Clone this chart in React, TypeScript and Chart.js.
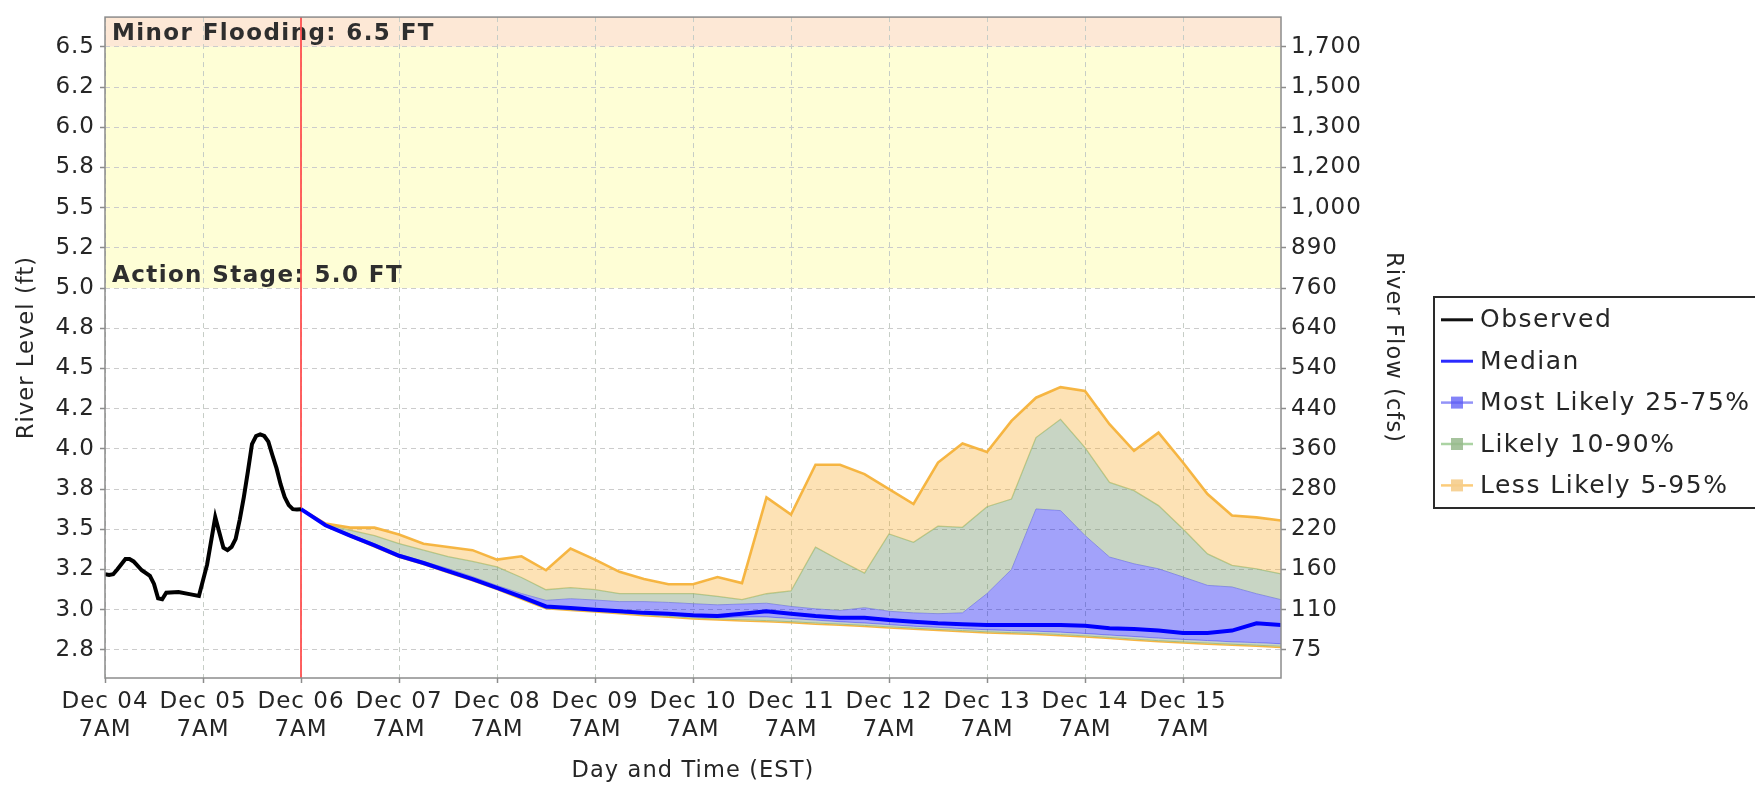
import React, { useEffect, useRef } from "react";
import { Chart, registerables } from "chart.js";

Chart.register(...registerables);

const CANVAS_W = 1755;
const CANVAS_H = 787;
const FONT = '"DejaVu Sans", "Noto Sans", sans-serif';
const TEXT_COLOR = "#262626";

// ---- Axis / category data (x = hours after Dec 04 7AM EST) ----
const dayLabels = ["Dec 04", "Dec 05", "Dec 06", "Dec 07", "Dec 08", "Dec 09", "Dec 10", "Dec 11", "Dec 12", "Dec 13", "Dec 14", "Dec 15"];
const dayTimeLabel = "7AM";
const xTickHours = [0, 24, 48, 72, 96, 120, 144, 168, 192, 216, 240, 264];
const xMinHour = 0;
const xMaxHour = 288;

const stageTicks = [2.75, 3.0, 3.25, 3.5, 3.75, 4.0, 4.25, 4.5, 4.75, 5.0, 5.25, 5.5, 5.75, 6.0, 6.25, 6.5];
const stageTickLabels = ["2.8", "3.0", "3.2", "3.5", "3.8", "4.0", "4.2", "4.5", "4.8", "5.0", "5.2", "5.5", "5.8", "6.0", "6.2", "6.5"];
const flowTickLabels = ["75", "110", "160", "220", "280", "360", "440", "540", "640", "760", "890", "1,000", "1,200", "1,300", "1,500", "1,700"];
const stageMin = 2.575;
const stageMax = 6.685;

const actionStage = 5.0;
const minorFloodStage = 6.5;
const forecastStartHour = 48;

const xTitle = "Day and Time (EST)";
const leftTitle = "River Level (ft)";
const rightTitle = "River Flow (cfs)";

// ---- Observed river level ----
const obsHours = [0, 1, 2, 3, 5, 6, 7, 9, 11, 12, 13, 14, 15, 18, 21, 23, 25, 27, 28, 29, 30, 31, 32, 33, 34, 35, 36, 37, 38, 39, 40, 41, 42, 43, 44, 45, 46, 47, 48];
const obsLevels = [3.22, 3.215, 3.22, 3.25, 3.315, 3.315, 3.3, 3.245, 3.21, 3.16, 3.07, 3.065, 3.105, 3.11, 3.095, 3.085, 3.28, 3.575, 3.48, 3.385, 3.37, 3.39, 3.44, 3.56, 3.7, 3.86, 4.03, 4.08, 4.09, 4.08, 4.045, 3.96, 3.88, 3.78, 3.7, 3.65, 3.625, 3.623, 3.625];

// ---- Ensemble forecast (6-hourly) ----
const fcHours = [48, 54, 60, 66, 72, 78, 84, 90, 96, 102, 108, 114, 120, 126, 132, 138, 144, 150, 156, 162, 168, 174, 180, 186, 192, 198, 204, 210, 216, 222, 228, 234, 240, 246, 252, 258, 264, 270, 276, 282, 288];
const fcMedian = [3.625, 3.525, 3.46, 3.4, 3.335, 3.29, 3.24, 3.19, 3.135, 3.08, 3.02, 3.01, 3.0, 2.99, 2.98, 2.975, 2.965, 2.96, 2.975, 2.99, 2.975, 2.96, 2.95, 2.95, 2.935, 2.925, 2.915, 2.91, 2.905, 2.905, 2.905, 2.905, 2.9, 2.885, 2.88, 2.87, 2.855, 2.855, 2.87, 2.915, 2.905];
const fcP95 = [3.625, 3.535, 3.51, 3.51, 3.467, 3.41, 3.39, 3.37, 3.311, 3.332, 3.245, 3.38, 3.311, 3.235, 3.19, 3.158, 3.158, 3.203, 3.165, 3.698, 3.591, 3.901, 3.901, 3.843, 3.75, 3.657, 3.915, 4.033, 3.98, 4.174, 4.318, 4.384, 4.36, 4.153, 3.988, 4.101, 3.915, 3.719, 3.585, 3.574, 3.554];
const fcP90 = [3.625, 3.53, 3.494, 3.46, 3.411, 3.37, 3.33, 3.3, 3.266, 3.2, 3.124, 3.137, 3.124, 3.1, 3.1, 3.1, 3.1, 3.083, 3.062, 3.099, 3.116, 3.389, 3.306, 3.227, 3.471, 3.419, 3.519, 3.512, 3.64, 3.688, 4.07, 4.184, 4.008, 3.791, 3.74, 3.647, 3.502, 3.347, 3.275, 3.254, 3.223];
const fcP75 = [3.625, 3.53, 3.47, 3.41, 3.345, 3.3, 3.255, 3.205, 3.15, 3.1, 3.058, 3.068, 3.06, 3.05, 3.05, 3.045, 3.037, 3.03, 3.035, 3.04, 3.02, 3.005, 2.995, 3.012, 2.99, 2.98, 2.975, 2.98, 3.1, 3.25, 3.626, 3.616, 3.461, 3.327, 3.285, 3.254, 3.203, 3.151, 3.141, 3.099, 3.062];
const fcP25 = [3.625, 3.523, 3.458, 3.396, 3.331, 3.286, 3.236, 3.186, 3.131, 3.073, 3.013, 3.003, 2.993, 2.984, 2.973, 2.965, 2.955, 2.95, 2.955, 2.955, 2.945, 2.935, 2.925, 2.917, 2.907, 2.897, 2.89, 2.882, 2.875, 2.87, 2.866, 2.86, 2.852, 2.842, 2.833, 2.823, 2.815, 2.808, 2.8, 2.795, 2.788];
const fcP10 = [3.625, 3.522, 3.457, 3.393, 3.328, 3.283, 3.233, 3.183, 3.128, 3.068, 3.008, 2.999, 2.99, 2.98, 2.968, 2.958, 2.948, 2.942, 2.937, 2.932, 2.925, 2.917, 2.91, 2.902, 2.893, 2.885, 2.877, 2.87, 2.862, 2.857, 2.852, 2.845, 2.837, 2.827, 2.817, 2.807, 2.799, 2.792, 2.785, 2.779, 2.772];
const fcP5 = [3.625, 3.52, 3.455, 3.39, 3.325, 3.28, 3.23, 3.18, 3.125, 3.065, 3.005, 2.995, 2.985, 2.975, 2.962, 2.952, 2.942, 2.935, 2.93, 2.925, 2.918, 2.91, 2.903, 2.895, 2.886, 2.878, 2.87, 2.863, 2.855, 2.85, 2.845, 2.838, 2.83, 2.82, 2.81, 2.8, 2.792, 2.785, 2.778, 2.772, 2.765];

// ---- Styles ----
const orangeFill = "rgba(250,175,50,0.36)";
const orangeLine = "rgba(246,178,58,0.95)";
const greenFill = "rgba(105,140,95,0.37)";
const greenLine = "rgba(150,190,130,0.75)";
const blueFill = "rgba(0,0,240,0.365)";
const blueLine = "rgba(120,120,250,0.75)";

const legendItems = [
  { label: "Observed", kind: "line", color: "#111111" },
  { label: "Median", kind: "line", color: "#2a2aff" },
  { label: "Most Likely 25-75%", kind: "band", color: "rgba(120,120,245,0.8)", box: "rgba(90,90,245,0.75)" },
  { label: "Likely 10-90%", kind: "band", color: "rgba(150,200,140,0.8)", box: "rgba(150,185,140,0.85)" },
  { label: "Less Likely 5-95%", kind: "band", color: "rgba(250,195,100,0.85)", box: "rgba(245,205,140,0.9)" },
];

const pts = (xs: number[], ys: number[]) => xs.map((x, i) => ({ x, y: ys[i] }));

const TICK_SPACING = "1px";

const decorPlugin = {
  id: "hefsDecor",
  beforeUpdate(chart: any) {
    chart.ctx.letterSpacing = TICK_SPACING;
  },
  beforeLayout(chart: any) {
    chart.ctx.letterSpacing = TICK_SPACING;
  },
  beforeDraw(chart: any) {
    const { ctx, chartArea: a, scales } = chart;
    ctx.letterSpacing = TICK_SPACING;
    const yMinor = scales.y.getPixelForValue(minorFloodStage);
    const yAction = scales.y.getPixelForValue(actionStage);
    ctx.save();
    ctx.fillStyle = "#fde8d6";
    ctx.fillRect(a.left, a.top, a.right - a.left, yMinor - a.top);
    ctx.fillStyle = "#fefed6";
    ctx.fillRect(a.left, yMinor, a.right - a.left, yAction - yMinor);
    ctx.restore();
  },
  beforeDatasetsDraw(chart: any) {
    const { ctx, chartArea: a, scales } = chart;
    const yAction = scales.y.getPixelForValue(actionStage);
    ctx.save();
    ctx.font = `bold 23px ${FONT}`;
    ctx.letterSpacing = "1.4px";
    ctx.fillStyle = "#2e2e2e";
    ctx.textAlign = "left";
    ctx.textBaseline = "alphabetic";
    ctx.fillText(`Minor Flooding: ${minorFloodStage.toFixed(1)} FT`, a.left + 7, a.top + 22.5);
    ctx.fillText(`Action Stage: ${actionStage.toFixed(1)} FT`, a.left + 7, yAction - 6);
    const xf = scales.x.getPixelForValue(forecastStartHour);
    ctx.strokeStyle = "rgba(255,80,80,0.9)";
    ctx.lineWidth = 2;
    ctx.beginPath();
    ctx.moveTo(xf, a.top);
    ctx.lineTo(xf, a.bottom);
    ctx.stroke();
    ctx.restore();
  },
  afterDatasetsDraw(chart: any) {
    const { ctx, chartArea: a } = chart;
    ctx.save();
    ctx.strokeStyle = "#8c8c8c";
    ctx.lineWidth = 1.5;
    ctx.strokeRect(a.left, a.top, a.right - a.left, a.bottom - a.top);
    ctx.restore();
  },
  afterDraw(chart: any) {
    const { ctx, chartArea: a } = chart;
    // axis titles
    ctx.save();
    ctx.fillStyle = TEXT_COLOR;
    ctx.font = `22.5px ${FONT}`;
    ctx.letterSpacing = "1.1px";
    ctx.textAlign = "center";
    ctx.textBaseline = "middle";
    const cy = (a.top + a.bottom) / 2;
    ctx.fillText(xTitle, (a.left + a.right) / 2, a.bottom + 93);
    ctx.save();
    ctx.translate(27, cy);
    ctx.rotate(-Math.PI / 2);
    ctx.fillText(leftTitle, 0, 0);
    ctx.restore();
    ctx.save();
    ctx.translate(a.right + 112, cy);
    ctx.rotate(Math.PI / 2);
    ctx.fillText(rightTitle, 0, 0);
    ctx.restore();
    ctx.restore();

    // legend
    const lx = a.right + 153;
    const ly = 297;
    ctx.save();
    ctx.fillStyle = "#ffffff";
    ctx.fillRect(lx, ly, 340, 211);
    ctx.strokeStyle = "#2a2a2a";
    ctx.lineWidth = 2;
    ctx.strokeRect(lx, ly, 340, 211);
    ctx.font = `25px ${FONT}`;
    ctx.letterSpacing = "1.5px";
    ctx.textAlign = "left";
    ctx.textBaseline = "middle";
    legendItems.forEach((it, i) => {
      const y = ly + 22.8 + i * 41.4;
      ctx.strokeStyle = it.color;
      ctx.lineWidth = it.kind === "line" ? 3 : 2.5;
      ctx.beginPath();
      ctx.moveTo(lx + 7, y);
      ctx.lineTo(lx + 39, y);
      ctx.stroke();
      if (it.kind === "band") {
        ctx.fillStyle = it.box as string;
        ctx.fillRect(lx + 17, y - 6, 12, 12);
      }
      ctx.fillStyle = TEXT_COLOR;
      ctx.fillText(it.label, lx + 46, y + 1);
    });
    ctx.restore();
  },
};

export default function App() {
  const ref = useRef<HTMLCanvasElement | null>(null);

  useEffect(() => {
    document.body.style.margin = "0";
    document.body.style.background = "#ffffff";
    const canvas = ref.current;
    if (!canvas) return;

    const tickFont = { family: FONT, size: 23, lineHeight: 1.05 };
    const lineDefaults = { pointRadius: 0, pointHoverRadius: 0, tension: 0 };

    const chart = new Chart(canvas, {
      type: "line",
      data: {
        datasets: [
          { label: "Observed", data: pts(obsHours, obsLevels), borderColor: "#000000", borderWidth: 4, fill: false, order: 0, ...lineDefaults },
          { label: "Median", data: pts(fcHours, fcMedian), borderColor: "#0000ff", borderWidth: 4, fill: false, order: 1, ...lineDefaults },
          { label: "Less Likely 5-95% (upper)", data: pts(fcHours, fcP95), borderColor: orangeLine, borderWidth: 2.6, fill: 3, backgroundColor: orangeFill, order: 2, ...lineDefaults },
          { label: "Likely 10-90% (upper)", data: pts(fcHours, fcP90), borderColor: greenLine, borderWidth: 1.3, fill: 4, backgroundColor: greenFill, order: 3, ...lineDefaults },
          { label: "Most Likely 25-75% (upper)", data: pts(fcHours, fcP75), borderColor: blueLine, borderWidth: 1, fill: 5, backgroundColor: blueFill, order: 4, ...lineDefaults },
          { label: "Most Likely 25-75% (lower)", data: pts(fcHours, fcP25), borderColor: blueLine, borderWidth: 1, fill: 6, backgroundColor: greenFill, order: 5, ...lineDefaults },
          { label: "Likely 10-90% (lower)", data: pts(fcHours, fcP10), borderColor: greenLine, borderWidth: 1, fill: 7, backgroundColor: orangeFill, order: 6, ...lineDefaults },
          { label: "Less Likely 5-95% (lower)", data: pts(fcHours, fcP5), borderColor: orangeLine, borderWidth: 1.5, fill: false, order: 7, ...lineDefaults },
        ],
      },
      options: {
        responsive: false,
        maintainAspectRatio: false,
        devicePixelRatio: 1,
        animation: false,
        events: [],
        layout: { padding: { left: 0, top: 12.7, right: 334, bottom: 0 } },
        plugins: { legend: { display: false }, tooltip: { enabled: false }, title: { display: false } },
        scales: {
          x: {
            type: "linear",
            position: "bottom",
            min: xMinHour,
            max: xMaxHour,
            afterBuildTicks: (s: any) => {
              s.ticks = xTickHours.map((v) => ({ value: v }));
            },
            afterFit: (s: any) => {
              s.height = 109;
            },
            ticks: {
              autoSkip: false,
              maxRotation: 0,
              minRotation: 0,
              padding: 4.5,
              color: TEXT_COLOR,
              font: { family: FONT, size: 23, lineHeight: 1.23 },
              callback: (_v: any, i: number) => [dayLabels[i], dayTimeLabel],
            },
            grid: { color: "#c6cdc6", lineWidth: 1, tickLength: 5, tickColor: "#8c8c8c", tickWidth: 1.5, tickBorderDash: [] },
            border: { display: false, dash: [5, 4] },
          },
          y: {
            type: "linear",
            position: "left",
            min: stageMin,
            max: stageMax,
            afterBuildTicks: (s: any) => {
              s.ticks = stageTicks.map((v) => ({ value: v }));
            },
            afterFit: (s: any) => {
              s.width = 105;
            },
            ticks: {
              autoSkip: false,
              padding: 5,
              color: TEXT_COLOR,
              font: tickFont,
              callback: (_v: any, i: number) => stageTickLabels[i],
            },
            grid: { color: "#cccccc", lineWidth: 1, tickLength: 5, tickColor: "#8c8c8c", tickWidth: 1.5, tickBorderDash: [] },
            border: { display: false, dash: [5, 4] },
          },
          y2: {
            type: "linear",
            position: "right",
            min: stageMin,
            max: stageMax,
            afterBuildTicks: (s: any) => {
              s.ticks = stageTicks.map((v) => ({ value: v }));
            },
            afterFit: (s: any) => {
              s.width = 140;
            },
            ticks: {
              autoSkip: false,
              padding: 5,
              color: TEXT_COLOR,
              font: tickFont,
              callback: (_v: any, i: number) => flowTickLabels[i],
            },
            grid: { drawOnChartArea: false, tickLength: 5, tickColor: "#8c8c8c", tickWidth: 1.5, tickBorderDash: [] },
            border: { display: false },
          },
        },
      } as any,
      plugins: [decorPlugin],
    });

    return () => chart.destroy();
  }, []);

  return (
    <canvas
      ref={ref}
      width={CANVAS_W}
      height={CANVAS_H}
      style={{ display: "block", width: CANVAS_W, height: CANVAS_H }}
    />
  );
}
